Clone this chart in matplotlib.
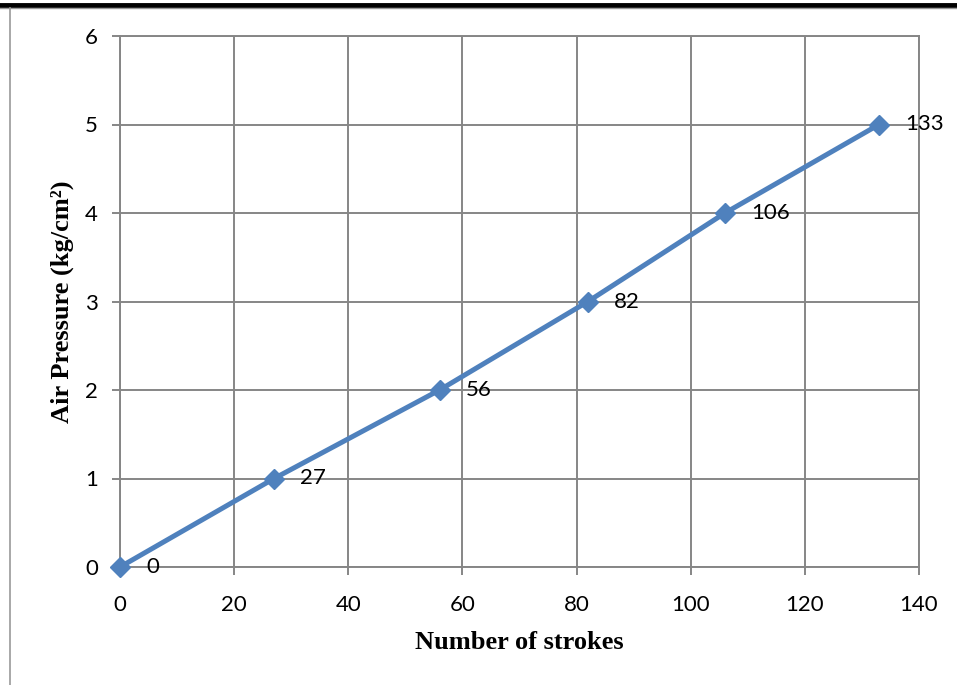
import matplotlib.pyplot as plt
from matplotlib.lines import Line2D

strokes = [0, 27, 56, 82, 106, 133]
pressure = [0, 1, 2, 3, 4, 5]
labels = ['0', '27', '56', '82', '106', '133']

fig = plt.figure(figsize=(9.57, 6.85), dpi=100)
ax = fig.add_axes([120/957, 1-567/685, (919-120)/957, (567-36)/685])

grid_c = '#868686'
ax.plot(strokes, pressure, color='#4F81BD', linewidth=3.6, marker='D',
        markersize=10.5, clip_on=False, zorder=3)
for x, y, t in zip(strokes, pressure, labels):
    ax.annotate(t, (x, y), xytext=(19, 0), textcoords='offset points',
                va='center', ha='left', fontsize=16, family='Lato', zorder=4)

ax.set_xlim(0, 140)
ax.set_ylim(0, 6)
ax.set_xticks(range(0, 141, 20))
ax.set_yticks(range(0, 7))
ax.grid(True, color=grid_c, linewidth=1.4)
ax.set_axisbelow(True)
for s in ax.spines.values():
    s.set_color(grid_c)
    s.set_linewidth(1.4)
ax.tick_params(direction='out', length=6, width=1.4, color=grid_c, labelsize=16)
ax.tick_params(axis='x', pad=14)
ax.tick_params(axis='y', pad=10)
for lab in ax.get_xticklabels() + ax.get_yticklabels():
    lab.set_family('Lato')

ax.set_xlabel('Number of strokes', family='Liberation Serif', fontweight='bold',
              fontsize=19, labelpad=12)
ax.set_ylabel('Air Pressure (kg/cm²)', family='Liberation Serif', fontweight='bold',
              fontsize=19, labelpad=8)

# page frame around the chart
fig.add_artist(Line2D([0, 1], [1-5/685, 1-5/685], color='black', linewidth=3.5))
fig.add_artist(Line2D([0, 1], [1-8/685, 1-8/685], color='#999999', linewidth=1))
fig.add_artist(Line2D([9.5/957, 9.5/957], [0, 1-8/685], color='#999999', linewidth=1.2))

plt.savefig('out.png', dpi=100)
